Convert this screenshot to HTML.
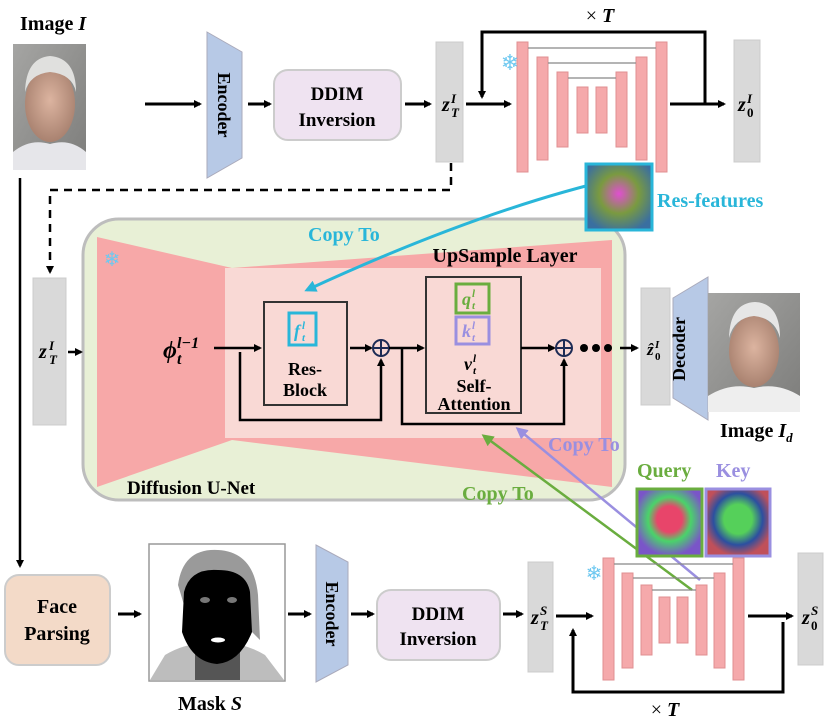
<!DOCTYPE html>
<html><head><meta charset="utf-8"><style>
html,body{margin:0;padding:0;background:#fff}
svg{display:block}
text{font-family:"Liberation Serif",serif;font-weight:bold}
</style></head><body>
<svg width="830" height="722" viewBox="0 0 830 722" xmlns="http://www.w3.org/2000/svg">
<defs>
<marker id="a" markerWidth="8" markerHeight="8" refX="6" refY="4" orient="auto" markerUnits="userSpaceOnUse"><path d="M0,0 L8,4 L0,8 Z" fill="#000"/></marker>
<marker id="ac" markerWidth="12" markerHeight="12" refX="9" refY="6" orient="auto" markerUnits="userSpaceOnUse"><path d="M0,0 L12,6 L0,12 Z" fill="#29b6d9"/></marker>
<marker id="ag" markerWidth="12" markerHeight="12" refX="9" refY="6" orient="auto" markerUnits="userSpaceOnUse"><path d="M0,0 L12,6 L0,12 Z" fill="#6aad3f"/></marker>
<marker id="ap" markerWidth="12" markerHeight="12" refX="9" refY="6" orient="auto" markerUnits="userSpaceOnUse"><path d="M0,0 L12,6 L0,12 Z" fill="#9a8fe0"/></marker>
<radialGradient id="skin" cx="50%" cy="45%" r="55%"><stop offset="0" stop-color="#dcb4a0"/><stop offset="1" stop-color="#a98270"/></radialGradient>
<linearGradient id="bg" x1="0" y1="0" x2="1" y2="1"><stop offset="0" stop-color="#a5a5a3"/><stop offset="1" stop-color="#7d7d7b"/></linearGradient>
<radialGradient id="res" cx="50%" cy="45%" r="60%"><stop offset="0" stop-color="#e04fd0"/><stop offset="0.5" stop-color="#7a9a40"/><stop offset="1" stop-color="#3a6fa0"/></radialGradient>
<radialGradient id="q" cx="50%" cy="45%" r="55%"><stop offset="0.35" stop-color="#e8456a"/><stop offset="0.6" stop-color="#4ad36a"/><stop offset="1" stop-color="#7a55c8"/></radialGradient>
<radialGradient id="k" cx="50%" cy="45%" r="55%"><stop offset="0.4" stop-color="#55d05a"/><stop offset="0.7" stop-color="#2c4fa0"/><stop offset="1" stop-color="#c0505a"/></radialGradient>
</defs>

<!-- Top row -->
<text x="20" y="30" font-size="20">Image <tspan font-style="italic">I</tspan></text>
<rect x="13" y="44" width="73" height="126" fill="url(#bg)"/>
<path d="M13,170 L13,152 Q30,138 50,144 Q70,138 86,152 L86,170Z" fill="#e6e6ea"/>
<ellipse cx="50" cy="104" rx="25" ry="38" fill="url(#skin)"/>
<path d="M25,92 Q26,58 50,56 Q76,58 76,92 Q72,74 50,72 Q30,74 25,92Z" fill="#e0e0de"/>
<line x1="145" y1="104" x2="200" y2="104" stroke="#000" stroke-width="3" marker-end="url(#a)"/>
<path d="M207,32 L242,52 L242,158 L207,178Z" fill="#b7c9e6" stroke="#aab" stroke-width="1"/>
<text transform="translate(218,105) rotate(90)" font-size="18" text-anchor="middle">Encoder</text>
<line x1="248" y1="104" x2="270" y2="104" stroke="#000" stroke-width="3" marker-end="url(#a)"/>
<rect x="274" y="70" width="127" height="70" rx="14" fill="#efe3f1" stroke="#ccc" stroke-width="2"/>
<text x="337" y="100" font-size="19" text-anchor="middle">DDIM</text>
<text x="337" y="126" font-size="19" text-anchor="middle">Inversion</text>
<line x1="405" y1="104" x2="430" y2="104" stroke="#000" stroke-width="3" marker-end="url(#a)"/>
<rect x="436" y="42" width="27" height="120" fill="#d9d9d9" stroke="#ccc"/>
<text x="442" y="111" font-size="20" font-style="italic">z</text><text x="451" y="103" font-size="13" font-style="italic">I</text><text x="451" y="117" font-size="13" font-style="italic">T</text>
<line x1="466" y1="104" x2="510" y2="104" stroke="#000" stroke-width="3" marker-end="url(#a)"/>
<g fill="#f5a9ab" stroke="#e08f92" stroke-width="1">
<rect x="517" y="42" width="11" height="130"/><rect x="537" y="57" width="11" height="103"/><rect x="557" y="72" width="11" height="75"/><rect x="577" y="87" width="11" height="46"/>
<rect x="596" y="87" width="11" height="46"/><rect x="616" y="72" width="11" height="75"/><rect x="636" y="57" width="11" height="103"/><rect x="656" y="42" width="11" height="130"/></g>
<g stroke="#888" stroke-width="1.2"><line x1="528" y1="48" x2="656" y2="48"/><line x1="548" y1="63" x2="636" y2="63"/><line x1="568" y1="78" x2="616" y2="78"/></g>
<text x="510" y="70" font-size="22" fill="#6ec8f0" text-anchor="middle" style="font-weight:normal">❄</text>
<path d="M705,104 L705,32 L482,32 L482,97" fill="none" stroke="#000" stroke-width="3" marker-end="url(#a)"/>
<line x1="670" y1="104" x2="724" y2="104" stroke="#000" stroke-width="3" marker-end="url(#a)"/>
<text x="600" y="22" font-size="20" text-anchor="middle" style="font-weight:normal">× <tspan font-weight="bold" font-style="italic">T</tspan></text>
<rect x="734" y="40" width="26" height="122" fill="#d9d9d9" stroke="#ccc"/>
<text x="738" y="111" font-size="20" font-style="italic">z</text><text x="747" y="103" font-size="13" font-style="italic">I</text><text x="747" y="117" font-size="13">0</text>

<!-- dashed & left line -->
<path d="M451,163 L451,190 L50,190 L50,272" fill="none" stroke="#000" stroke-width="2.5" stroke-dasharray="8,6" marker-end="url(#a)"/>
<line x1="20" y1="178" x2="20" y2="566" stroke="#000" stroke-width="2.5" marker-end="url(#a)"/>

<!-- Big green box -->
<rect x="83" y="219" width="542" height="281" rx="36" fill="#e8f0d6" stroke="#bdbdbd" stroke-width="3"/>
<path d="M97,237 L232,268 L612,240 L612,487 L232,440 L97,487Z" fill="#f7a8a8"/>
<rect x="225" y="268" width="376" height="170" fill="#f9d9d5"/>
<text x="112" y="266" font-size="20" fill="#6ec8f0" text-anchor="middle" style="font-weight:normal">❄</text>
<text x="505" y="262" font-size="20" text-anchor="middle">UpSample Layer</text>
<text x="163" y="358" font-size="24" font-style="italic">ϕ</text><text x="177" y="348" font-size="16" font-style="italic">l−1</text><text x="177" y="364" font-size="16" font-style="italic">t</text>
<line x1="214" y1="348" x2="260" y2="348" stroke="#000" stroke-width="2.5" marker-end="url(#a)"/>
<rect x="264" y="302" width="83" height="103" fill="none" stroke="#333" stroke-width="2"/>
<rect x="289" y="313" width="27" height="32" fill="none" stroke="#29b6d9" stroke-width="3"/>
<text x="294" y="337" font-size="18" fill="#29b6d9" font-style="italic">f</text><text x="302" y="329" font-size="11" fill="#29b6d9" font-style="italic">l</text><text x="302" y="341" font-size="11" fill="#29b6d9" font-style="italic">t</text>
<text x="305" y="375" font-size="18" text-anchor="middle">Res-</text>
<text x="305" y="396" font-size="18" text-anchor="middle">Block</text>
<line x1="350" y1="348" x2="371" y2="348" stroke="#000" stroke-width="2.5" marker-end="url(#a)"/>
<circle cx="381" cy="348" r="8" fill="none" stroke="#1d2b55" stroke-width="2"/>
<line x1="373" y1="348" x2="389" y2="348" stroke="#1d2b55" stroke-width="2"/><line x1="381" y1="340" x2="381" y2="356" stroke="#1d2b55" stroke-width="2"/>
<path d="M240,352 L240,420 L381,420 L381,360" fill="none" stroke="#000" stroke-width="2.5" marker-end="url(#a)"/>
<line x1="389" y1="348" x2="423" y2="348" stroke="#000" stroke-width="2.5" marker-end="url(#a)"/>
<rect x="426" y="277" width="95" height="136" fill="none" stroke="#333" stroke-width="2"/>
<rect x="456" y="284" width="33" height="29" fill="none" stroke="#6aad3f" stroke-width="3"/>
<text x="462" y="305" font-size="18" fill="#6aad3f" font-style="italic">q</text><text x="472" y="297" font-size="11" fill="#6aad3f" font-style="italic">l</text><text x="472" y="309" font-size="11" fill="#6aad3f" font-style="italic">t</text>
<rect x="456" y="317" width="33" height="27" fill="none" stroke="#9a8fe0" stroke-width="3"/>
<text x="462" y="337" font-size="18" fill="#9a8fe0" font-style="italic">k</text><text x="472" y="329" font-size="11" fill="#9a8fe0" font-style="italic">l</text><text x="472" y="341" font-size="11" fill="#9a8fe0" font-style="italic">t</text>
<text x="464" y="370" font-size="18" font-style="italic">v</text><text x="473" y="362" font-size="11" font-style="italic">l</text><text x="473" y="374" font-size="11" font-style="italic">t</text>
<text x="474" y="392" font-size="18" text-anchor="middle">Self-</text>
<text x="474" y="410" font-size="18" text-anchor="middle">Attention</text>
<path d="M402,348 L402,424 L564,424 L564,360" fill="none" stroke="#000" stroke-width="2.5" marker-end="url(#a)"/>
<line x1="521" y1="348" x2="554" y2="348" stroke="#000" stroke-width="2.5" marker-end="url(#a)"/>
<circle cx="564" cy="348" r="8" fill="none" stroke="#1d2b55" stroke-width="2"/>
<line x1="556" y1="348" x2="572" y2="348" stroke="#1d2b55" stroke-width="2"/><line x1="564" y1="340" x2="564" y2="356" stroke="#1d2b55" stroke-width="2"/>
<circle cx="584" cy="348" r="4"/><circle cx="596" cy="348" r="4"/><circle cx="608" cy="348" r="4"/>
<line x1="620" y1="348" x2="637" y2="348" stroke="#000" stroke-width="2.5" marker-end="url(#a)"/>
<text x="127" y="494" font-size="19">Diffusion U-Net</text>

<!-- z_T^I lower -->
<rect x="33" y="278" width="33" height="147" fill="#d9d9d9" stroke="#ccc"/>
<text x="39" y="358" font-size="20" font-style="italic">z</text><text x="49" y="350" font-size="13" font-style="italic">I</text><text x="49" y="364" font-size="13" font-style="italic">T</text>
<line x1="68" y1="352" x2="81" y2="352" stroke="#000" stroke-width="2.5" marker-end="url(#a)"/>

<!-- decoder side -->
<rect x="641" y="288" width="29" height="117" fill="#d9d9d9" stroke="#ccc"/>
<text x="647" y="355" font-size="17" font-style="italic">ẑ</text><text x="655" y="348" font-size="11" font-style="italic">I</text><text x="655" y="360" font-size="11">0</text>
<path d="M673,298 L708,277 L708,420 L673,398Z" fill="#b7c9e6" stroke="#aab"/>
<text transform="translate(685,349) rotate(-90)" font-size="18" text-anchor="middle">Decoder</text>
<rect x="708" y="293" width="92" height="119" fill="url(#bg)"/>
<path d="M708,412 L708,396 Q730,382 754,388 Q778,382 800,396 L800,412Z" fill="#eee"/>
<ellipse cx="754" cy="351" rx="25" ry="36" fill="url(#skin)"/>
<path d="M729,338 Q730,303 755,302 Q780,303 780,338 Q775,318 754,316 Q734,318 729,338Z" fill="#e6e6e6"/>
<text x="720" y="437" font-size="20">Image <tspan font-style="italic">I<tspan font-size="13" dy="5">d</tspan></tspan></text>

<!-- res features -->
<path d="M618,178 Q480,210 307,290" fill="none" stroke="#29b6d9" stroke-width="3" marker-end="url(#ac)"/>
<rect x="586" y="164" width="66" height="66" fill="url(#res)" stroke="#29b6d9" stroke-width="3"/>
<text x="657" y="207" font-size="20" fill="#29b6d9">Res-features</text>
<text x="308" y="241" font-size="20" fill="#29b6d9">Copy To</text>

<!-- copy lines -->
<line x1="692" y1="590" x2="484" y2="436" stroke="#6aad3f" stroke-width="2.5" marker-end="url(#ag)"/>
<line x1="700" y1="580" x2="518" y2="429" stroke="#9a8fe0" stroke-width="2.5" marker-end="url(#ap)"/>
<text x="548" y="451" font-size="20" fill="#9a8fe0">Copy To</text>
<text x="462" y="500" font-size="20" fill="#6aad3f">Copy To</text>
<text x="637" y="477" font-size="20" fill="#6aad3f">Query</text>
<text x="716" y="477" font-size="20" fill="#9a8fe0">Key</text>
<rect x="637" y="489" width="65" height="67" fill="url(#q)" stroke="#6aad3f" stroke-width="3"/>
<rect x="706" y="489" width="64" height="67" fill="url(#k)" stroke="#9a8fe0" stroke-width="3"/>

<!-- bottom row -->
<rect x="5" y="575" width="105" height="90" rx="14" fill="#f3dac8" stroke="#ccc" stroke-width="2"/>
<text x="57" y="613" font-size="20" text-anchor="middle">Face</text>
<text x="57" y="640" font-size="20" text-anchor="middle">Parsing</text>
<line x1="118" y1="614" x2="140" y2="614" stroke="#000" stroke-width="3" marker-end="url(#a)"/>
<rect x="149" y="544" width="136" height="137" fill="#fff" stroke="#999" stroke-width="1.5"/>
<path d="M150,680 L165,655 Q190,640 215,645 Q240,640 265,655 L284,680Z" fill="#bdbdbd"/>
<path d="M195,680 L195,650 L240,650 L240,680Z" fill="#555"/>
<path d="M178,585 Q183,548 218,550 Q254,552 258,595 L260,640 L245,625 L190,625Z" fill="#9a9a9a"/>
<path d="M184,592 Q190,568 218,570 Q246,570 250,592 L252,632 Q240,662 217,664 Q192,662 182,632Z" fill="#000"/>
<ellipse cx="205" cy="600" rx="5" ry="3" fill="#777"/><ellipse cx="232" cy="600" rx="5" ry="3" fill="#777"/>
<ellipse cx="218" cy="640" rx="7" ry="2.5" fill="#fff"/>
<text x="210" y="710" font-size="20" text-anchor="middle">Mask <tspan font-style="italic">S</tspan></text>
<line x1="288" y1="614" x2="310" y2="614" stroke="#000" stroke-width="3" marker-end="url(#a)"/>
<path d="M316,545 L348,562 L348,665 L316,682Z" fill="#b7c9e6" stroke="#aab"/>
<text transform="translate(326,614) rotate(90)" font-size="18" text-anchor="middle">Encoder</text>
<line x1="351" y1="614" x2="373" y2="614" stroke="#000" stroke-width="3" marker-end="url(#a)"/>
<rect x="377" y="590" width="123" height="70" rx="14" fill="#efe3f1" stroke="#ccc" stroke-width="2"/>
<text x="438" y="620" font-size="19" text-anchor="middle">DDIM</text>
<text x="438" y="645" font-size="19" text-anchor="middle">Inversion</text>
<line x1="503" y1="614" x2="522" y2="614" stroke="#000" stroke-width="3" marker-end="url(#a)"/>
<rect x="528" y="562" width="25" height="110" fill="#d9d9d9" stroke="#ccc"/>
<text x="531" y="624" font-size="20" font-style="italic">z</text><text x="540" y="615" font-size="13" font-style="italic">S</text><text x="540" y="630" font-size="13" font-style="italic">T</text>
<line x1="556" y1="616" x2="592" y2="616" stroke="#000" stroke-width="3" marker-end="url(#a)"/>
<g fill="#f5a9ab" stroke="#e08f92" stroke-width="1">
<rect x="603" y="558" width="11" height="122"/><rect x="622" y="573" width="11" height="95"/><rect x="641" y="585" width="11" height="70"/><rect x="659" y="597" width="11" height="46"/>
<rect x="677" y="597" width="11" height="46"/><rect x="696" y="585" width="11" height="70"/><rect x="714" y="573" width="11" height="95"/><rect x="733" y="558" width="11" height="122"/></g>
<g stroke="#888" stroke-width="1.2"><line x1="614" y1="564" x2="733" y2="564"/><line x1="633" y1="578" x2="714" y2="578"/><line x1="652" y1="590" x2="696" y2="590"/></g>
<text x="594" y="580" font-size="20" fill="#6ec8f0" text-anchor="middle" style="font-weight:normal">❄</text>
<path d="M783,622 L783,692 L573,692 L573,630" fill="none" stroke="#000" stroke-width="3" marker-end="url(#a)"/>
<line x1="748" y1="616" x2="792" y2="616" stroke="#000" stroke-width="3" marker-end="url(#a)"/>
<text x="665" y="716" font-size="20" text-anchor="middle" style="font-weight:normal">× <tspan font-weight="bold" font-style="italic">T</tspan></text>
<rect x="798" y="553" width="25" height="112" fill="#d9d9d9" stroke="#ccc"/>
<text x="802" y="624" font-size="20" font-style="italic">z</text><text x="811" y="615" font-size="13" font-style="italic">S</text><text x="811" y="630" font-size="13">0</text>
</svg>
</body></html>
